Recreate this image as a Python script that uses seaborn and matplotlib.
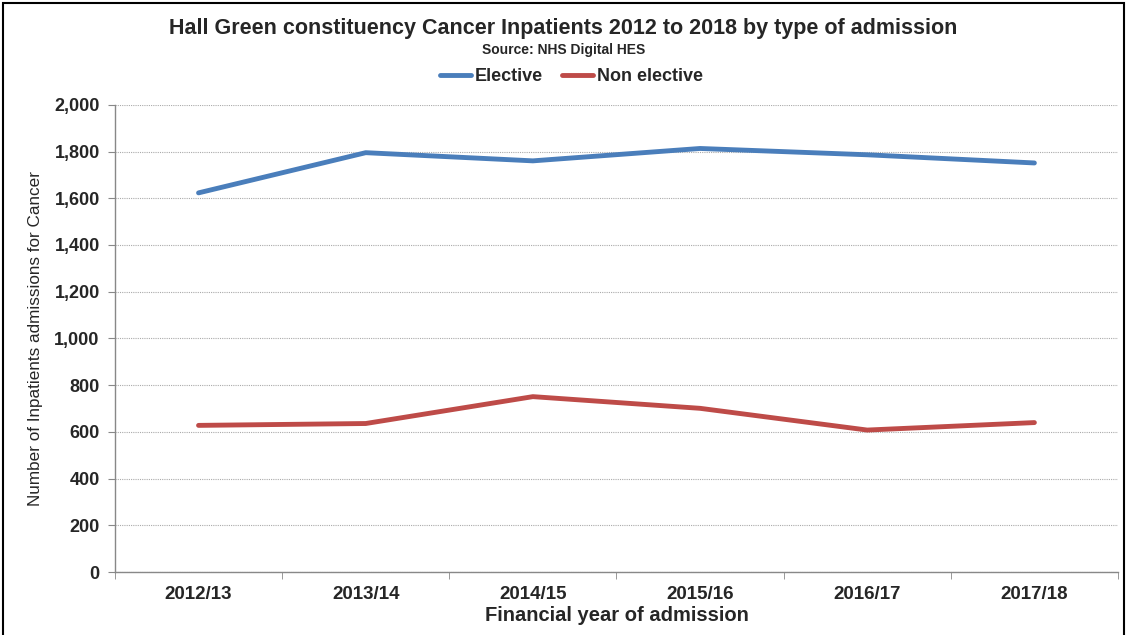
import numpy as np
import pandas as pd
import seaborn as sns
import matplotlib.pyplot as plt
from matplotlib.patches import Rectangle
from matplotlib.ticker import FuncFormatter, FixedLocator

years = ["2012/13", "2013/14", "2014/15", "2015/16", "2016/17", "2017/18"]
elective = [1623, 1795, 1760, 1813, 1786, 1751]
non_elective = [628, 636, 751, 701, 608, 640]

df = pd.DataFrame({
    "year": years * 2,
    "admissions": elective + non_elective,
    "type": ["Elective"] * len(years) + ["Non elective"] * len(years),
})
df["pos"] = list(range(len(years))) * 2

sns.set_style("white")
plt.rcParams['font.family'] = ['Liberation Sans', 'DejaVu Sans']

fig = plt.figure(figsize=(11.27, 6.35), dpi=100)
ax = fig.add_axes([0.102, 0.099, 0.890, 0.736])

sns.lineplot(data=df, x="pos", y="admissions", hue="type",
             palette={"Elective": "#4A7EBB", "Non elective": "#BE4B48"},
             linewidth=3.5, ax=ax, legend=False)

ax.set_xlim(-0.5, len(years) - 0.5)
ax.set_ylim(0, 2000)
ax.set_yticks(np.arange(0, 2001, 200))
ax.yaxis.set_major_formatter(FuncFormatter(lambda v, p: f"{int(v):,}"))
ax.set_xticks(range(len(years)))
ax.set_xticklabels(years, fontweight="bold", fontsize=13.5)
ax.xaxis.set_minor_locator(FixedLocator(np.arange(-0.5, len(years), 1)))
ax.tick_params(axis="x", which="major", length=0, pad=10)
ax.tick_params(axis="x", which="minor", length=5, color="#888888", direction="out", bottom=True)
ax.tick_params(axis="y", length=5, color="#888888", direction="out", left=True, labelsize=13, pad=6)
for lab in ax.get_yticklabels():
    lab.set_fontweight("bold")

ax.grid(axis="y", linestyle=(0, (1, 1)), color="#AAAAAA", linewidth=0.8)
ax.set_axisbelow(True)
for s in ["top", "right"]:
    ax.spines[s].set_visible(False)
for s in ["left", "bottom"]:
    ax.spines[s].set_color("#888888")
    ax.spines[s].set_linewidth(1)

ax.set_xlabel("Financial year of admission", fontsize=14.5, fontweight="bold", labelpad=2)
ax.set_ylabel("Number of Inpatients admissions for Cancer", fontsize=12.3, labelpad=8)

fig.text(0.5, 0.955, "Hall Green constituency Cancer Inpatients 2012 to 2018 by type of admission",
         ha="center", va="center", fontsize=15.5, fontweight="bold")
fig.text(0.5, 0.922, "Source: NHS Digital HES", ha="center", va="center", fontsize=10, fontweight="bold")

handles = [plt.Line2D([], [], color="#4A7EBB", lw=3.5),
           plt.Line2D([], [], color="#BE4B48", lw=3.5)]
fig.legend(handles, ["Elective", "Non elective"], loc="center", bbox_to_anchor=(0.507, 0.879),
           ncol=2, frameon=False, prop={"weight": "bold", "size": 13},
           handlelength=1.7, handletextpad=0.2, columnspacing=1.1)

fig.add_artist(Rectangle((0.003, -0.01), 0.994, 1.005, transform=fig.transFigure,
                         fill=False, edgecolor="black", linewidth=1.5))

fig.savefig("out.png", dpi=100)
